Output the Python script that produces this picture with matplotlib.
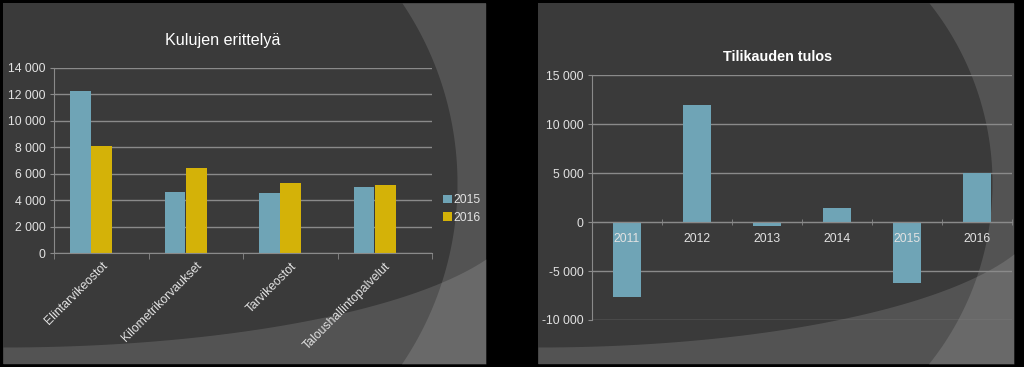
import numpy as np
import matplotlib
matplotlib.use("Agg")
import matplotlib.pyplot as plt
from matplotlib.ticker import FuncFormatter, FixedLocator

plt.rcParams['font.family'] = ['Liberation Sans', 'DejaVu Sans']

# data
kulut_cats = ['Elintarvikeostot', 'Kilometrikorvaukset', 'Tarvikeostot', 'Taloushallintopalvelut']
kulut_2015 = [12250, 4600, 4500, 4950]
kulut_2016 = [8100, 6450, 5300, 5100]

tulos_years = ['2011', '2012', '2013', '2014', '2015', '2016']
tulos = [-7600, 12000, -350, 1450, -6200, 5000]

blue = '#6fa4b6'
gold = '#d4b208'
txt = '#e2e2e2'
gridc = '#8a8a8a'

W, H = 1024, 367
fig = plt.figure(figsize=(10.24, 3.67), dpi=100, facecolor='black')

# slide-like backgrounds, in pixel coordinates
bg = fig.add_axes([0, 0, 1, 1], zorder=-1)
bg.set_xlim(0, W)
bg.set_ylim(H, 0)
bg.axis('off')


def panel(x0, x1, y0, y1, arc_cx, arc_r, a):
    bg.add_patch(plt.Rectangle((x0, y0), x1 - x0, y1 - y0, color='#3a3a3a', lw=0))
    # big arc on the right
    cy = 183
    ys = np.linspace(y0, y1, 300)
    xa = arc_cx + np.sqrt(np.clip(arc_r**2 - (ys - cy)**2, 0, None))
    xa = np.clip(xa, x0, x1)
    bg.fill_betweenx(ys, xa, x1, color='white', alpha=0.13, lw=0)
    # band at the bottom
    xs = np.linspace(x0, x1, 300)
    b, ecy = 140, 207
    yb = ecy + b * np.sqrt(np.clip(1 - ((xs - x0) / a)**2, 0, None))
    bg.fill_between(xs, yb, y1, color='white', alpha=0.13, lw=0)


panel(3, 486, 3, 364, 135, 322, 520)
panel(538, 1014, 3, 364, 703, 289, 505)


def fmt(v, pos):
    return f"{int(v):,}".replace(",", " ")


def style(ax):
    ax.set_facecolor('none')
    for s in ['top', 'right']:
        ax.spines[s].set_visible(False)
    for s in ['left', 'bottom']:
        ax.spines[s].set_color(gridc)
    ax.yaxis.grid(True, color=gridc, lw=1)
    ax.set_axisbelow(True)
    ax.yaxis.set_major_formatter(FuncFormatter(fmt))
    ax.tick_params(axis='y', colors=gridc, labelcolor=txt, labelsize=8.8, length=3, pad=3)


# left chart
ax1 = fig.add_axes([54 / W, 1 - 253 / H, 378 / W, (253 - 67.7) / H])
style(ax1)
x = np.arange(len(kulut_cats))
ax1.bar(x - 0.22, kulut_2015, 0.22, color=blue, label='2015')
ax1.bar(x + 0.005, kulut_2016, 0.22, color=gold, label='2016')
ax1.set_xlim(-0.5, 3.5)
ax1.set_ylim(0, 14000)
ax1.set_yticks(np.arange(0, 14001, 2000))
ax1.set_xticks(x)
ax1.set_xticklabels(kulut_cats, rotation=45, ha='right', rotation_mode='anchor')
ax1.xaxis.set_minor_locator(FixedLocator(np.arange(-0.5, 4, 1)))
ax1.tick_params(axis='x', which='major', length=0, labelsize=8.8, labelcolor=txt, pad=5)
ax1.tick_params(axis='x', which='minor', length=4, color=gridc)
fig.text(223 / W, 1 - 40 / H, 'Kulujen erittelyä', color='white', fontsize=11.6,
         ha='center', va='center')
fig.legend(*ax1.get_legend_handles_labels(), loc='center left',
           bbox_to_anchor=(437 / W, 1 - 209 / H), frameon=False, fontsize=8.8,
           labelcolor=txt, handlelength=0.7, handleheight=0.7, handletextpad=0.15,
           labelspacing=0.45, borderpad=0)

# right chart
ax2 = fig.add_axes([592 / W, 1 - 320 / H, 420 / W, (320 - 75.3) / H])
style(ax2)
xr = np.arange(len(tulos_years))
ax2.bar(xr, tulos, 0.4, color=blue)
ax2.set_xlim(-0.5, 5.5)
ax2.set_ylim(-10000, 15000)
ax2.set_yticks(np.arange(-10000, 15001, 5000))
ax2.spines['bottom'].set_position(('data', 0))
ax2.set_xticks(xr)
ax2.set_xticklabels([])
ax2.xaxis.set_minor_locator(FixedLocator(np.arange(-0.5, 6, 1)))
ax2.tick_params(axis='x', which='major', length=0)
ax2.tick_params(axis='x', which='minor', length=4, direction='inout', color=gridc)
# year labels sit on top of the bars
for i, yr in enumerate(tulos_years):
    ax2.annotate(yr, (xr[i], 0), xytext=(0, -8), textcoords='offset points',
                 ha='center', va='top', fontsize=8.8, color=txt, zorder=5)
fig.text(778 / W, 1 - 57 / H, 'Tilikauden tulos', color='white', fontsize=10.4,
         fontweight='bold', ha='center', va='center')

fig.savefig('out.png', dpi=100, facecolor='black')
